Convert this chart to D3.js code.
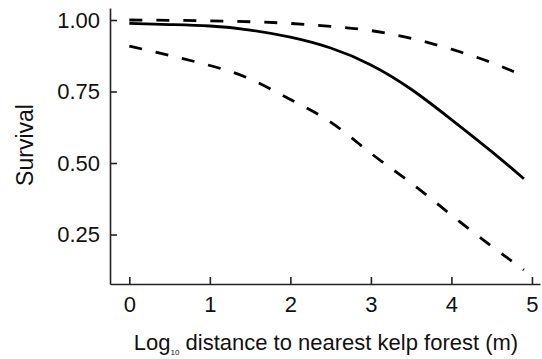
<!DOCTYPE html>
<html>
<head>
<meta charset="utf-8">
<script src="https://cdn.jsdelivr.net/npm/d3@7"></script>
<style>
  body { margin: 0; background: #fff; }
  svg text { font-family: "Liberation Sans", Arial, sans-serif; fill: #111; }
</style>
</head>
<body>
<svg id="chart"></svg>
<script>
// log10 distance values where the curves were read
const distances = [0, 0.5, 1, 1.5, 2, 2.5, 3, 3.5, 4, 4.5, 4.9];
const survival = [0.988, 0.984, 0.979, 0.965, 0.94, 0.902, 0.843, 0.758, 0.652, 0.54, 0.445];
const upperCI = [1.0, 0.999, 0.997, 0.994, 0.988, 0.978, 0.963, 0.936, 0.898, 0.851, 0.804];
const lowerCI = [0.909, 0.876, 0.841, 0.794, 0.722, 0.643, 0.534, 0.43, 0.318, 0.209, 0.126];
const xTicks = [0, 1, 2, 3, 4, 5];
const yTicks = [0.25, 0.5, 0.75, 1.0];

const w = 542;
const h = 359;

const svg = d3.select('#chart')
  .attr('width', w)
  .attr('height', h);

const x = d3.scaleLinear().domain([-0.24, 5.1]).range([110, 540]);
const y = d3.scaleLinear().domain([0.077, 1.042]).range([284, 8]);

const xAxis = d3.axisBottom(x).tickValues(xTicks).tickSize(-7).tickSizeOuter(0)
  .tickPadding(12).tickFormat(d3.format('d'));
const yAxis = d3.axisLeft(y).tickValues(yTicks).tickSize(-7).tickSizeOuter(0)
  .tickPadding(10).tickFormat(d3.format('.2f'));

const gx = svg.append('g').attr('transform', `translate(0, ${y.range()[0]})`).call(xAxis);
const gy = svg.append('g').attr('transform', `translate(${x.range()[0]}, 0)`).call(yAxis);

[gx, gy].forEach(g => {
  g.select('.domain').attr('stroke', '#222').attr('stroke-width', 1.6);
  g.selectAll('.tick line').attr('stroke', '#222').attr('stroke-width', 1.6);
  g.selectAll('.tick text').attr('font-size', 22).attr('fill', '#111')
    .attr('font-family', '"Liberation Sans", Arial, sans-serif');
});

const line = vals => d3.line()
  .x((d, i) => x(distances[i]))
  .y(d => y(d))
  .curve(d3.curveNatural)(vals);

svg.append('path')
  .attr('d', line(upperCI))
  .attr('fill', 'none')
  .attr('stroke', '#000')
  .attr('stroke-width', 2.8)
  .attr('stroke-dasharray', '13,14');

svg.append('path')
  .attr('d', line(lowerCI))
  .attr('fill', 'none')
  .attr('stroke', '#000')
  .attr('stroke-width', 2.8)
  .attr('stroke-dasharray', '13,14');

svg.append('path')
  .attr('d', line(survival))
  .attr('fill', 'none')
  .attr('stroke', '#000')
  .attr('stroke-width', 2.8);

// axis titles
svg.append('text')
  .attr('transform', 'translate(33, 145) rotate(-90)')
  .attr('text-anchor', 'middle')
  .attr('font-size', 23)
  .text('Survival');

const xl = svg.append('text')
  .attr('x', 326)
  .attr('y', 350)
  .attr('text-anchor', 'middle')
  .attr('font-size', 22);
xl.append('tspan').text('Log');
xl.append('tspan').attr('font-size', 8).attr('dy', 5).text('10');
xl.append('tspan').attr('dy', -5).text(' distance to nearest kelp forest (m)');
</script>
</body>
</html>
